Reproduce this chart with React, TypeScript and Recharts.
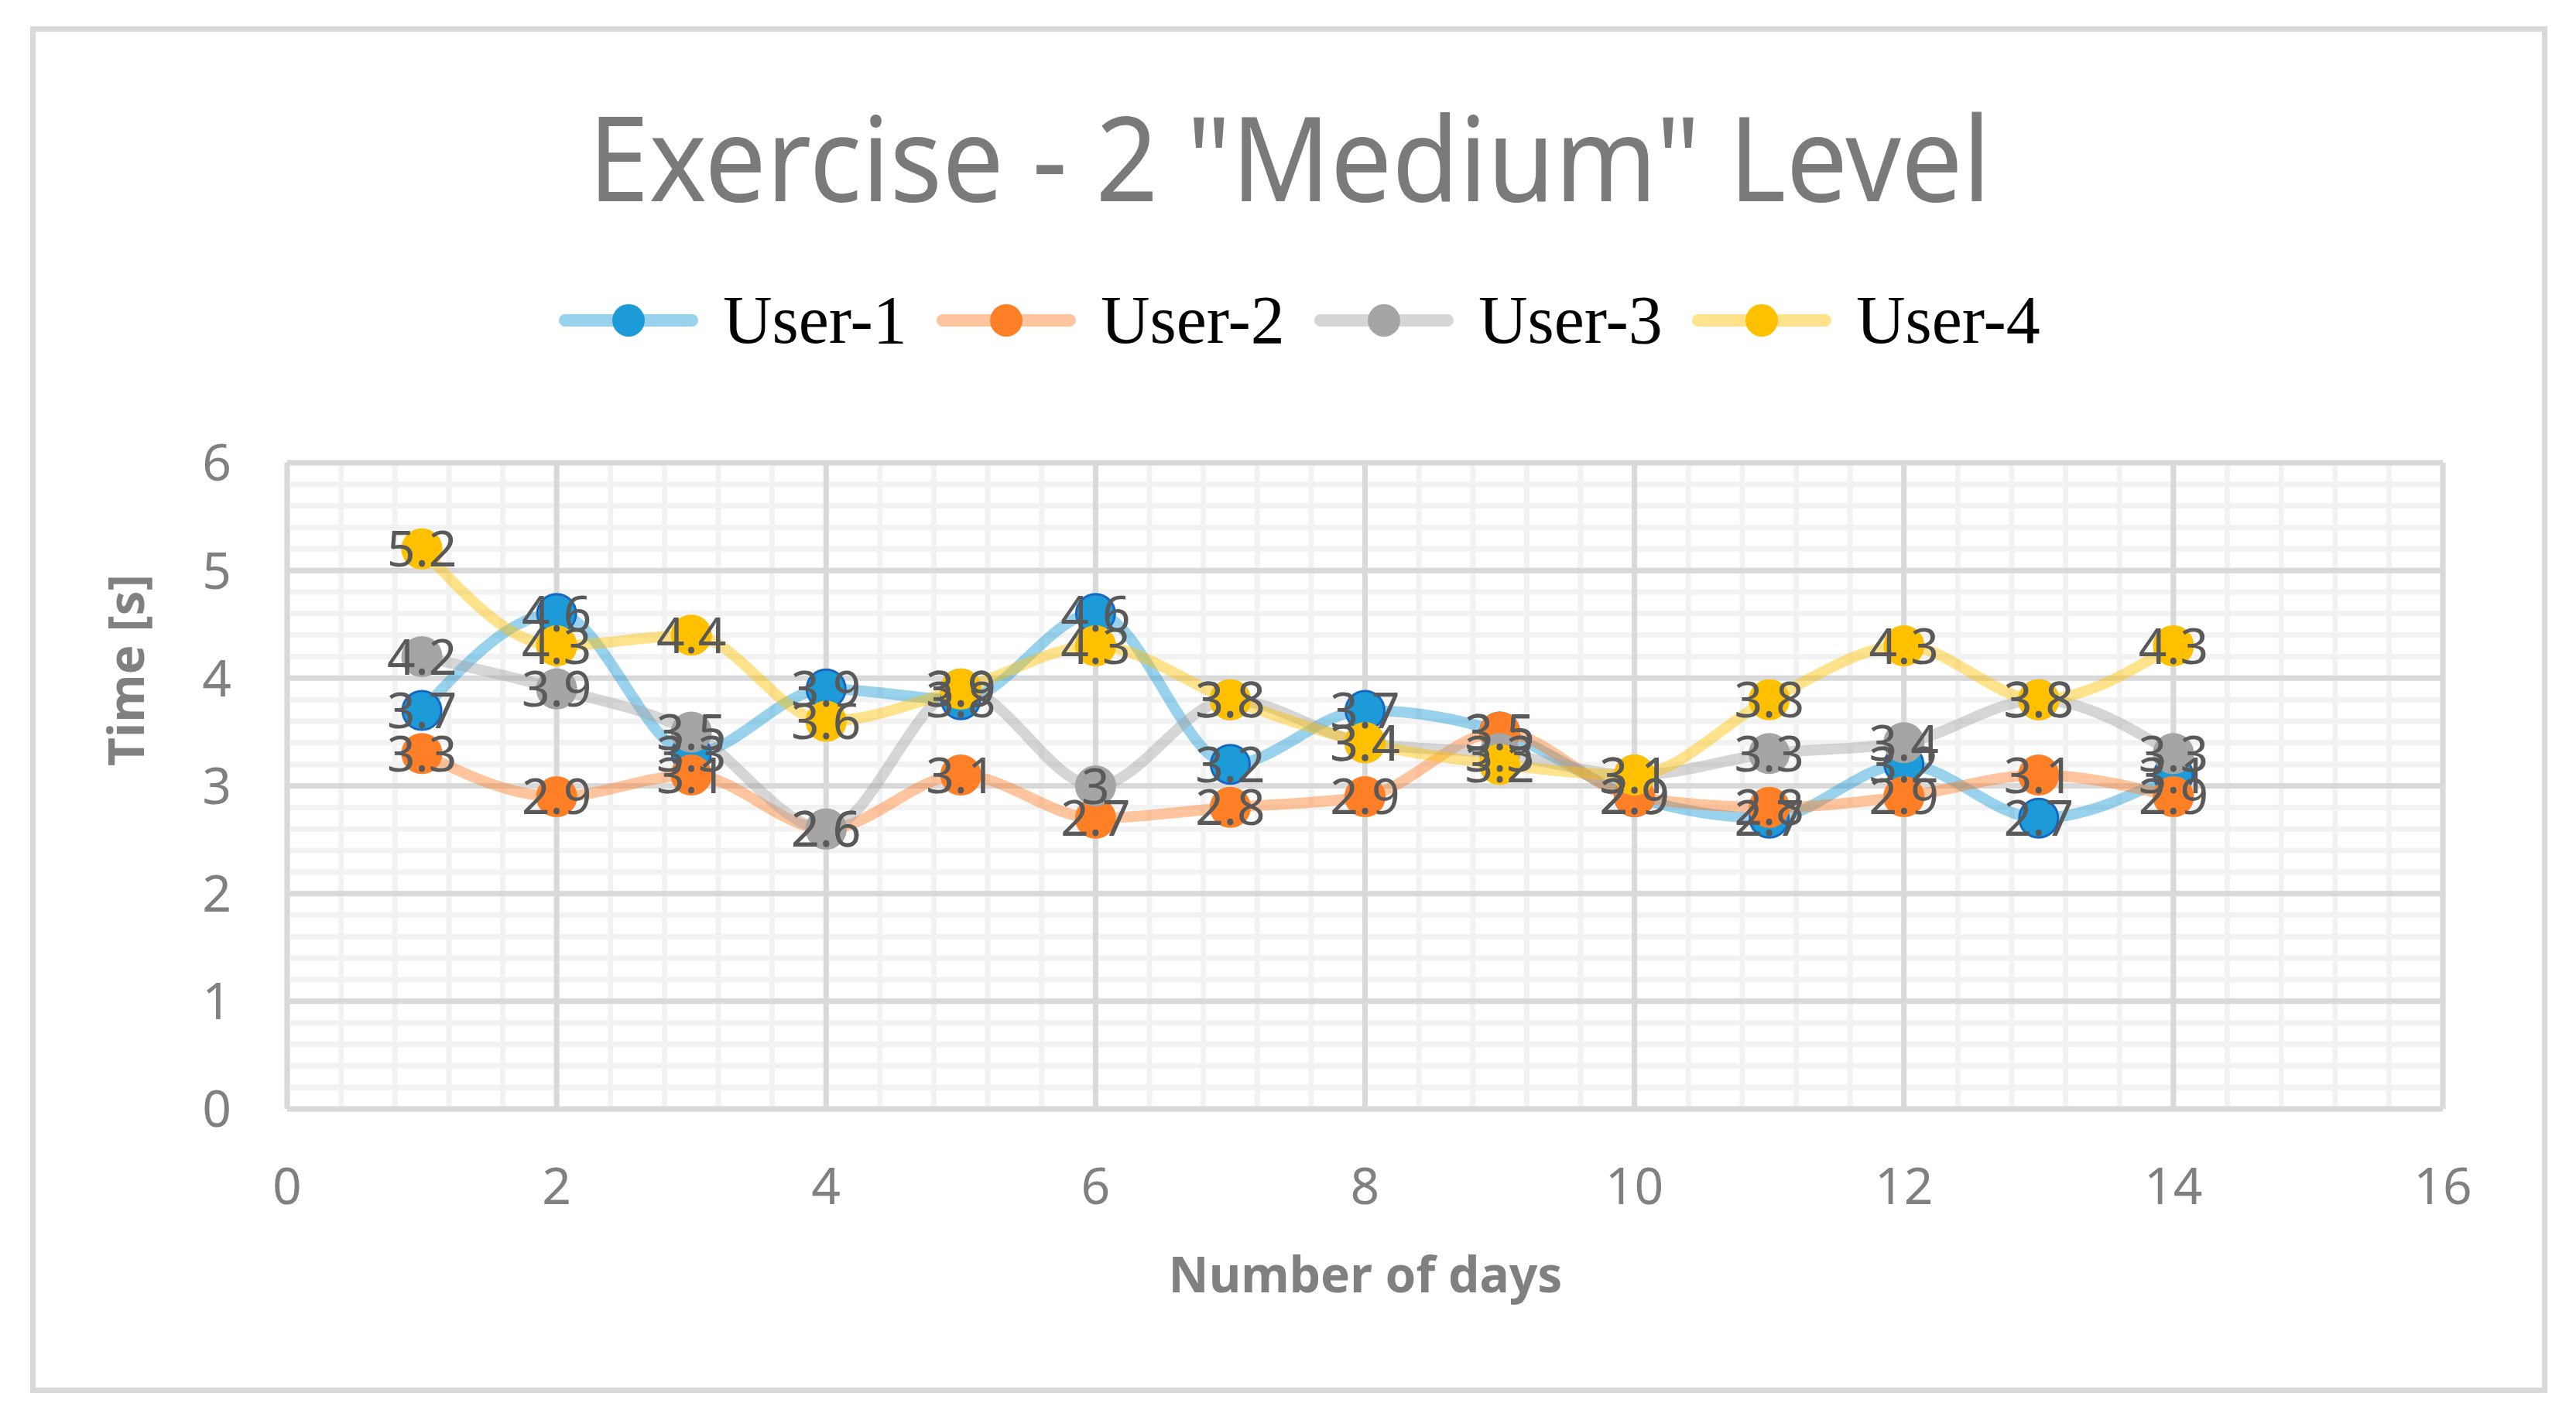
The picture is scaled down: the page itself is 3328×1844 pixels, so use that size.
import React from 'react'
import { LineChart, Line, XAxis, YAxis, CartesianGrid, Legend } from 'recharts'

const days = [1, 2, 3, 4, 5, 6, 7, 8, 9, 10, 11, 12, 13, 14]
const user1 = [3.7, 4.6, 3.3, 3.9, 3.8, 4.6, 3.2, 3.7, 3.5, 2.9, 2.7, 3.2, 2.7, 3.1]
const user2 = [3.3, 2.9, 3.1, 2.6, 3.1, 2.7, 2.8, 2.9, 3.5, 2.9, 2.8, 2.9, 3.1, 2.9]
const user3 = [4.2, 3.9, 3.5, 2.6, 3.9, 3.0, 3.8, 3.4, 3.3, 3.1, 3.3, 3.4, 3.8, 3.3]
const user4 = [5.2, 4.3, 4.4, 3.6, 3.9, 4.3, 3.8, 3.4, 3.2, 3.1, 3.8, 4.3, 3.8, 4.3]

const xTicks = [0, 2, 4, 6, 8, 10, 12, 14, 16]
const yTicks = [0, 1, 2, 3, 4, 5, 6]
// minor grid: every 0.4 on x, every 0.2 on y
const xMinor = Array.from({ length: 41 }, (_, i) => +(i * 0.4).toFixed(1))
const yMinor = Array.from({ length: 31 }, (_, i) => +(i * 0.2).toFixed(1))

const series = [
  { key: 'u1', name: 'User-1', color: '#1C9BD8', edge: '#1767C0' },
  { key: 'u2', name: 'User-2', color: '#FF7F27', edge: '#FF7F27' },
  { key: 'u3', name: 'User-3', color: '#A5A5A5', edge: '#A5A5A5' },
  { key: 'u4', name: 'User-4', color: '#FFC000', edge: '#FFC000' },
]

const data = days.map((d, i) => ({
  day: d,
  u1: user1[i],
  u2: user2[i],
  u3: user3[i],
  u4: user4[i],
}))

const GRAY = '#808080'
const SANS = '"Noto Sans", "Open Sans", sans-serif'

const renderLabel = (props: any) => {
  const { x, y, value, index } = props
  if (x == null || y == null) return null
  return (
    <text
      key={`lbl-${index}`}
      x={x}
      y={y}
      dy={23}
      textAnchor="middle"
      fontSize={64}
      fontFamily={SANS}
      fill="#595959"
    >
      {value}
    </text>
  )
}

const renderLegend = (props: any) => {
  const items = (props.payload || []).filter((p: any) => p.type !== 'none')
  return (
    <div style={{ position: 'relative', width: 1960, height: 120 }}>
      {items.map((p: any, i: number) => (
        <div
          key={p.value}
          style={{
            position: 'absolute',
            left: i * 488,
            top: 0,
            height: 120,
            display: 'flex',
            alignItems: 'center',
          }}
        >
          <svg width={180} height={60}>
            <line x1={8} x2={172} y1={30} y2={30} stroke={p.color} strokeOpacity={0.45} strokeWidth={16} strokeLinecap="round" />
            <circle cx={90} cy={30} r={21} fill={p.color} />
          </svg>
          <span
            style={{
              marginLeft: 32,
              fontFamily: '"Liberation Serif", "Times New Roman", serif',
              fontSize: 88,
              color: '#000',
              lineHeight: 1,
            }}
          >
            {p.value}
          </span>
        </div>
      ))}
    </div>
  )
}

export default function App() {
  return (
    <div style={{ position: 'absolute', left: 0, top: 0, width: 3328, height: 1844, background: '#fff' }}>
      <div
        style={{
          position: 'absolute',
          left: 39,
          top: 34,
          width: 3252,
          height: 1766,
          border: '7px solid #d9d9d9',
          boxSizing: 'border-box',
        }}
      />
      <svg style={{ position: 'absolute', left: 0, top: 0 }} width={3328} height={320}>
        <text
          x={1666}
          y={260}
          textAnchor="middle"
          fontSize={151}
          fontFamily={SANS}
          fill="#7a7a7a"
          textLength={1812}
          lengthAdjust="spacingAndGlyphs"
        >
          Exercise - 2 "Medium" Level
        </text>
      </svg>
      <div style={{ position: 'absolute', left: 0, top: 0 }}>
        <LineChart
          width={3328}
          height={1844}
          data={data}
          margin={{ top: 598, right: 172, bottom: 311, left: 171 }}
        >
          <CartesianGrid
            horizontalValues={yMinor}
            verticalValues={xMinor}
            stroke="#f2f2f2"
            strokeWidth={7}
          />
          <CartesianGrid
            horizontalValues={yTicks}
            verticalValues={xTicks}
            stroke="#d9d9d9"
            strokeWidth={7}
          />
          <XAxis
            dataKey="day"
            type="number"
            domain={[0, 16]}
            ticks={xTicks}
            interval={0}
            height={100}
            axisLine={false}
            tickLine={false}
            tickSize={0}
            tickMargin={76}
            tick={{ fontSize: 66, fill: GRAY, fontFamily: SANS }}
            label={{
              content: () => (
                <text x={1764} y={1670} textAnchor="middle" fontSize={64} fontWeight="bold" fontFamily={SANS} fill={GRAY}>
                  Number of days
                </text>
              ),
            }}
          />
          <YAxis
            type="number"
            domain={[0, 6]}
            ticks={yTicks}
            interval={0}
            width={200}
            axisLine={false}
            tickLine={false}
            tickSize={0}
            tickMargin={72}
            tick={{ fontSize: 66, fill: GRAY, fontFamily: SANS }}
            label={{
              content: () => (
                <text
                  transform="translate(186,866) rotate(-90)"
                  textAnchor="middle"
                  fontSize={64}
                  fontWeight="bold"
                  fontFamily={SANS}
                  fill={GRAY}
                >
                  Time [s]
                </text>
              ),
            }}
          />
          <Legend
            layout="horizontal"
            verticalAlign="middle"
            align="center"
            content={renderLegend}
            wrapperStyle={{ top: 354, left: 722, width: 1960 }}
          />
          {series.map((s) => (
            <Line
              key={s.key}
              dataKey={s.key}
              name={s.name}
              type="monotone"
              stroke={s.color}
              strokeOpacity={0.45}
              strokeWidth={14}
              dot={{ r: 25, fill: s.color, stroke: s.edge, strokeWidth: 3, strokeOpacity: 1, fillOpacity: 1 }}
              activeDot={false}
              isAnimationActive={false}
            />
          ))}
          {series.map((s) => (
            <Line
              key={`${s.key}-labels`}
              dataKey={s.key}
              legendType="none"
              stroke="none"
              dot={false}
              activeDot={false}
              label={renderLabel}
              isAnimationActive={false}
            />
          ))}
        </LineChart>
      </div>
    </div>
  )
}
